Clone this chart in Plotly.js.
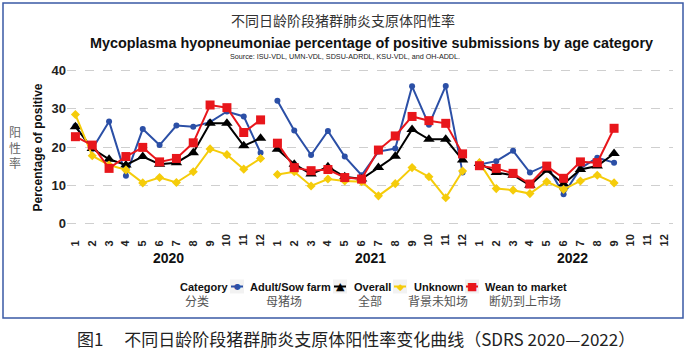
<!DOCTYPE html>
<html><head><meta charset="utf-8">
<script src="https://cdn.plot.ly/plotly-3.0.1.min.js"></script>
<style>html,body{margin:0;padding:0;background:#fff}#chart{width:686px;height:355px}</style>
</head><body><div id="chart"></div>
<script>
// ---- data ----
const years = ["2020", "2021", "2022"];
const months = [1, 2, 3, 4, 5, 6, 7, 8, 9, 10, 11, 12];
const monthLabels = ["1", "2", "3", "4", "5", "6", "7", "8", "9", "10", "11", "12"];
const categories = ["Adult/Sow farm", "Overall", "Unknown", "Wean to market"];
const categoriesZh = ["母猪场", "全部", "背景未知场", "断奶到上市场"];

const adult2020 = [25.5, 19.5, 26.7, 12.5, 24.7, 20.5, 25.6, 25.3, 26.5, 29.3, 28.0, 18.5];
const adult2021 = [32.1, 24.3, 17.9, 24.2, 17.5, 12.6, 18.8, 19.6, 35.9, 25.8, 36.0, 13.3];
const adult2022 = [15.4, 16.3, 19.0, 13.3, 15.3, 7.6, 14.4, 17.2, 15.9];

const overall2020 = [25.3, 19.6, 16.8, 15.3, 17.5, 15.5, 15.9, 18.5, 26.2, 26.2, 20.3, 22.3];
const overall2021 = [19.4, 15.5, 12.9, 14.8, 12.2, 11.6, 14.6, 17.6, 24.6, 22.0, 22.0, 16.6];
const overall2022 = [15.7, 13.3, 12.6, 10.0, 13.9, 10.3, 14.1, 15.0, 18.3];

const unknown2020 = [28.5, 17.7, 15.3, 14.0, 10.6, 12.0, 10.7, 13.5, 19.5, 18.0, 14.2, 17.0];
const unknown2021 = [12.8, 13.5, 9.8, 11.6, 11.1, 10.9, 7.2, 10.4, 14.6, 12.2, 6.7, 13.7];
const unknown2022 = [15.9, 9.1, 8.7, 7.8, 10.9, 8.9, 11.1, 12.6, 10.6];

const wean2020 = [22.7, 20.5, 14.4, 17.5, 19.9, 16.1, 17.0, 21.1, 31.0, 30.3, 23.8, 27.1];
const wean2021 = [21.0, 14.6, 13.8, 14.1, 12.0, 11.6, 19.2, 22.9, 28.0, 26.9, 26.2, 18.2];
const wean2022 = [15.1, 14.4, 13.1, 10.3, 15.0, 11.8, 16.1, 15.9, 24.9];

// ---- styles ----
const seriesValues = [
  [adult2020, adult2021, adult2022],
  [overall2020, overall2021, overall2022],
  [unknown2020, unknown2021, unknown2022],
  [wean2020, wean2021, wean2022]
];
const colors = ["#2b4fa6", "#000000", "#f5cc0a", "#e8161b"];
const symbols = ["circle", "triangle-up", "diamond", "square"];
const msizes = [6, 10, 7, 9];
const keyGlyph = ["●", "▲", "◆", "■"];
const keySize = [8, 11, 9, 11];

const FONT = "Liberation Sans, Arial, sans-serif";
const CJK = "Noto Sans CJK SC, sans-serif";

// plot area in pixels
const L = 67, T = 63, W = 606, H = 168;
const px = x => (x - L) / W;
const py = y => (T + H - y) / H;

const axNames = ["x", "x2", "x3"];
const traces = [];
seriesValues.forEach((yrs, s) => {
  yrs.forEach((vals, i) => {
    traces.push({
      type: "scatter", mode: "lines+markers",
      x: months.slice(0, vals.length), y: vals,
      xaxis: axNames[i], yaxis: "y",
      name: categories[s], showlegend: false,
      line: {color: colors[s], width: 2},
      marker: {color: colors[s], symbol: symbols[s], size: msizes[s]},
      hoverinfo: "skip"
    });
  });
});

// tick labels padded so they align at their start like the reference
const tickText = monthLabels.map(t => t.length === 1 ? t + "\u00a0\u00a0" : t);

function xax(i) {
  return {
    domain: [i / 3, (i + 1) / 3], range: [0.5, 12.5], anchor: "y",
    tickmode: "array", tickvals: months, ticktext: tickText, tickangle: -90,
    showgrid: false, zeroline: false, showline: false, ticks: "",
    tickfont: {family: FONT, size: 11, color: "#222", weight: "bold"},
    fixedrange: true
  };
}

const annotations = [];
const A = (o) => annotations.push(Object.assign({xref: "paper", yref: "paper", showarrow: false, xanchor: "center", yanchor: "middle"}, o));

A({x: px(343), y: py(20), text: "不同日龄阶段猪群肺炎支原体阳性率", font: {family: CJK, size: 14, color: "#333"}});
A({x: px(371.5), y: py(43), text: "Mycoplasma hyopneumoniae percentage of positive submissions by age category", font: {family: FONT, size: 14.4, color: "#111", weight: "bold"}});
A({x: px(345), y: py(57), text: "Source: ISU-VDL, UMN-VDL, SDSU-ADRDL, KSU-VDL, and OH-ADDL.", font: {family: FONT, size: 7.2, color: "#222"}});

A({x: px(15), y: py(147), text: "阳<br>性<br>率", font: {family: CJK, size: 12, color: "#666"}});
A({x: px(37), y: py(147.5), text: "Percentage of positive", textangle: -90, font: {family: FONT, size: 12, color: "#111", weight: "bold"}});

years.forEach((yr, i) => A({xref: axNames[i], x: 6.5, y: py(258), text: yr, font: {family: FONT, size: 14, color: "#111", weight: "bold"}}));

// legend
const legY = 286.5, zhY = 300;
A({x: px(178), y: py(legY), xanchor: "left", text: "Category", font: {family: FONT, size: 11, color: "#111", weight: "bold"}});
A({x: px(197), y: py(zhY), text: "分类", font: {family: CJK, size: 12, color: "#555"}});
const keyX = [237, 340, 400, 472];
const textX = [248, 352, 412, 483];
const zhX = [284, 370, 438, 525];
const shapes = [];
categories.forEach((c, s) => {
  shapes.push({type: "rect", xref: "paper", yref: "paper", x0: px(keyX[s] - 7), x1: px(keyX[s] + 7), y0: py(legY + 7), y1: py(legY - 7), fillcolor: "#f2f2f2", line: {width: 0}, layer: "below"});
  shapes.push({type: "line", xref: "paper", yref: "paper", x0: px(keyX[s] - 6), x1: px(keyX[s] + 6), y0: py(legY), y1: py(legY), line: {color: colors[s], width: 2}});
  A({x: px(keyX[s]), y: py(legY), text: keyGlyph[s], font: {family: "DejaVu Sans", size: keySize[s], color: colors[s]}});
  A({x: px(textX[s]), y: py(legY), xanchor: "left", text: c, font: {family: FONT, size: 11, color: "#111", weight: "bold"}});
  A({x: px(zhX[s]), y: py(zhY), text: categoriesZh[s], font: {family: CJK, size: 12, color: "#555"}});
});

// outer border
shapes.push({type: "rect", xref: "paper", yref: "paper", x0: px(3), x1: px(683), y0: py(318), y1: py(3), line: {color: "#3a5aa5", width: 1.5}, fillcolor: "rgba(0,0,0,0)"});

A({x: px(356), y: py(338), text: "图1\u3000\u00a0不同日龄阶段猪群肺炎支原体阳性率变化曲线（SDRS 2020—2022）", font: {family: CJK, size: 17, color: "#222"}});

const layout = {
  width: 686, height: 355,
  margin: {l: L, r: 686 - L - W, t: T, b: 355 - T - H, pad: 0},
  paper_bgcolor: "#ffffff", plot_bgcolor: "#ffffff",
  showlegend: false,
  xaxis: xax(0), xaxis2: xax(1), xaxis3: xax(2),
  yaxis: {
    range: [-2, 42], tickmode: "array", tickvals: [0, 10, 20, 30, 40],
    showgrid: true, gridcolor: "#cfcfcf", griddash: "dash", gridwidth: 1,
    zeroline: false, showline: false, ticks: "",
    tickfont: {family: FONT, size: 13, color: "#222", weight: "bold"},
    fixedrange: true
  },
  annotations: annotations,
  shapes: shapes
};

Plotly.newPlot("chart", traces, layout, {displayModeBar: false, staticPlot: true});
</script>
</body></html>
